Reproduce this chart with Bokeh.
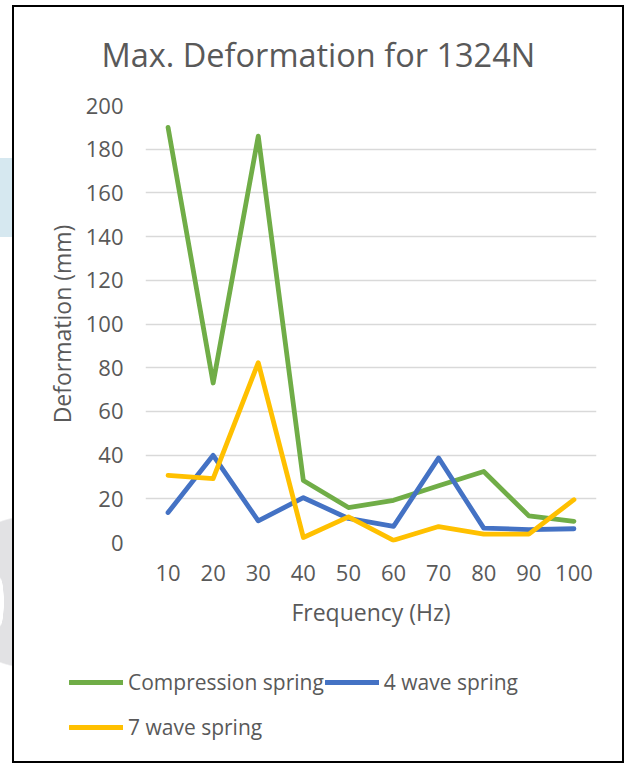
from bokeh.plotting import figure
from bokeh.layouts import column, row
from bokeh.models import (FactorRange, Range1d, SingleIntervalTicker, Legend,
                          LegendItem)
from bokeh.embed import file_html
from bokeh.resources import INLINE

# Excitation frequency (Hz), used as categories on the x axis
frequency = ["10", "20", "30", "40", "50", "60", "70", "80", "90", "100"]

# Maximum deformation (mm) under a 1324 N load
compression_spring = [190, 73, 186, 28.4, 16, 19.3, 26, 32.5, 12.2, 9.7]
wave4_spring = [13.7, 39.9, 9.9, 20.5, 11, 7.4, 38.7, 6.6, 5.9, 6.3]
wave7_spring = [30.7, 29.2, 82.3, 2.3, 11.7, 1.0, 7.3, 3.8, 3.8, 19.6]

series_names = ["Compression spring", "4 wave spring", "7 wave spring"]
series_values = [compression_spring, wave4_spring, wave7_spring]
series_colors = ["#70AD47", "#4472C4", "#FFC000"]

FONT = "Open Sans"
TEXT = "#595959"
LINE_W = 4.8

# ---- chart ----
p = figure(
    width=627, height=645,
    x_range=FactorRange(*frequency),
    y_range=Range1d(0, 200),
    output_backend="svg", toolbar_location=None,
    min_border_left=145, min_border_right=31,
    min_border_top=105, min_border_bottom=103,
    title="Max. Deformation for 1324N",
)
p.background_fill_color = "white"
p.border_fill_color = None
p.outline_line_color = None

p.title.text_font = FONT
p.title.text_font_size = "32.5px"
p.title.text_font_style = "normal"
p.title.text_color = TEXT
p.title.align = "left"
p.title.offset = -44
p.title.standoff = 58

p.yaxis.ticker = SingleIntervalTicker(interval=20)
p.yaxis.axis_label = "Deformation (mm)"
p.xaxis.axis_label = "Frequency (Hz)"
for ax in (p.xaxis, p.yaxis):
    ax.axis_line_color = None
    ax.major_tick_line_color = None
    ax.minor_tick_line_color = None
    ax.major_label_text_font = FONT
    ax.major_label_text_font_size = "22px"
    ax.major_label_text_color = TEXT
    ax.axis_label_text_font = FONT
    ax.axis_label_text_font_size = "23px"
    ax.axis_label_text_font_style = "normal"
    ax.axis_label_text_color = TEXT
p.yaxis.major_label_standoff = 16
p.yaxis.axis_label_standoff = 5
p.xaxis.major_label_standoff = 16
p.xaxis.axis_label_standoff = 12

p.xgrid.grid_line_color = None
p.ygrid.grid_line_color = "#D9D9D9"
p.ygrid.grid_line_width = 1.5

for vals, col in zip(series_values, series_colors):
    p.line(frequency, vals, line_color=col, line_width=LINE_W,
           line_join="round", line_cap="round")

# ---- legend strip under the chart ----
# The series are drawn again here against a y range they never reach, so
# only their legend entries show.
lg = figure(
    width=627, height=118,
    x_range=FactorRange(*frequency),
    y_range=Range1d(1000, 1001),
    output_backend="svg", toolbar_location=None,
    x_axis_location=None, y_axis_location=None,
    min_border=0,
)
lg.background_fill_color = None
lg.border_fill_color = None
lg.outline_line_color = None
lg.grid.visible = False

items = []
for name, vals, col in zip(series_names, series_values, series_colors):
    r = lg.line(frequency, vals, line_color=col, line_width=LINE_W,
                line_join="round", line_cap="round")
    items.append(LegendItem(label=name, renderers=[r]))

legend = Legend(
    items=items, orientation="horizontal", ncols=2,
    location=(69, 14),
    label_text_font=FONT, label_text_font_size="21px", label_text_color=TEXT,
    label_standoff=5, glyph_width=54, glyph_height=44, spacing=1,
    padding=0, margin=0, border_line_color=None, background_fill_alpha=0,
)
lg.add_layout(legend)

# black frame around the chart and the page decorations at its left edge,
# painted as the page background behind both parts
page_background = ", ".join([
    "linear-gradient(#000,#000) 12px 5px / 2px 758px no-repeat",
    "linear-gradient(#000,#000) 622px 5px / 2px 758px no-repeat",
    "linear-gradient(#000,#000) 12px 5px / 612px 2px no-repeat",
    "linear-gradient(#000,#000) 12px 761px / 612px 2px no-repeat",
    "linear-gradient(#D6E8F0,#D6E8F0) 0px 158px / 12px 79px no-repeat",
    "radial-gradient(ellipse 4px 25px at 0px 602px, #fff 90%, transparent 100%) 0px 0px / 12px 763px no-repeat",
    "radial-gradient(circle 76px at 27px 592px, #E2E2E4 98%, transparent 100%) 0px 0px / 12px 763px no-repeat",
    "#fff",
])
page = column(p, row(lg, spacing=0), spacing=0,
              styles={"background": page_background})

open("out.html", "w").write(file_html(page, INLINE))
